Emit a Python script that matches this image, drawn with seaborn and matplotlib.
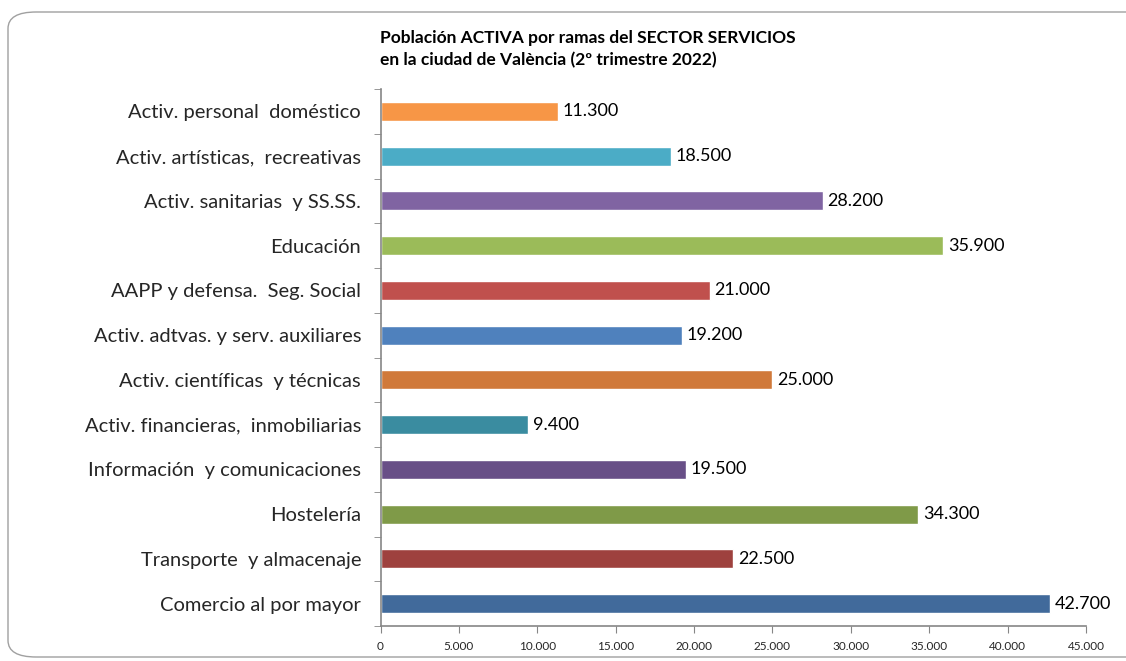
import matplotlib
matplotlib.use("Agg")
import matplotlib.pyplot as plt
import seaborn as sns
import pandas as pd
from matplotlib.patches import FancyBboxPatch
from matplotlib.ticker import FuncFormatter, FixedLocator

categories = [
    "Activ. personal  doméstico",
    "Activ. artísticas,  recreativas",
    "Activ. sanitarias  y SS.SS.",
    "Educación",
    "AAPP y defensa.  Seg. Social",
    "Activ. adtvas. y serv. auxiliares",
    "Activ. científicas  y técnicas",
    "Activ. financieras,  inmobiliarias",
    "Información  y comunicaciones",
    "Hostelería",
    "Transporte  y almacenaje",
    "Comercio al por mayor",
]
values = [11300, 18500, 28200, 35900, 21000, 19200, 25000, 9400, 19500, 34300, 22500, 42700]
colors = ["#F79646", "#4BACC6", "#8064A2", "#9BBB59", "#C0504D", "#4F81BD",
          "#D0793A", "#3A8CA0", "#684F87", "#7F9A48", "#9E413E", "#416A9B"]
xticks = [0, 5000, 10000, 15000, 20000, 25000, 30000, 35000, 40000, 45000]
title = "Población ACTIVA por ramas del SECTOR SERVICIOS\nen la ciudad de València (2º trimestre 2022)"

sns.set_style("white")
plt.rcParams['font.family'] = ['Lato', 'DejaVu Sans']

df = pd.DataFrame({"cat": categories, "val": values})

fig = plt.figure(figsize=(11.26, 6.61), dpi=100)
ax = fig.add_axes([380.5/1126, 1-626/661, (1086-380.5)/1126, (626-89)/661])

sns.barplot(data=df, x="val", y="cat", hue="cat", palette=colors, order=categories,
            hue_order=categories, legend=False, width=0.43, ax=ax, orient="h", saturation=1)

fmt = lambda v: f"{int(v):,}".replace(",", ".")
for i, v in enumerate(values):
    ax.text(v + 300, i, fmt(v), va="center", ha="left", fontsize=13, color="#000000")

ax.set_xlim(0, 45000)
ax.set_ylim(len(categories) - 0.5, -0.5)
ax.xaxis.set_major_locator(FixedLocator(xticks))
ax.xaxis.set_major_formatter(FuncFormatter(lambda v, p: fmt(v)))
ax.set_xlabel("")
ax.set_ylabel("")
ax.tick_params(axis="x", labelsize=8.5, length=5, direction="out", color="#868686", pad=6, bottom=True)
ax.tick_params(axis="y", which="major", labelsize=14.5, length=0, pad=14)
ax.set_yticks([i + 0.5 for i in range(-1, len(categories))], minor=True)
ax.tick_params(axis="y", which="minor", length=5, direction="out", color="#868686", left=True)
for s in ["top", "right"]:
    ax.spines[s].set_visible(False)
for s in ["left", "bottom"]:
    ax.spines[s].set_color("#868686")
    ax.spines[s].set_linewidth(1.2)

fig.text(380/1126, 1-30/661, title, ha="left", va="top", fontsize=12.5, fontweight="bold",
         linespacing=1.45, color="#000000")

border = FancyBboxPatch((8/1126, 4/661), (1126+30)/1126, (661-16)/661,
                        boxstyle="round,pad=0,rounding_size=0.025",
                        transform=fig.transFigure, fill=False, edgecolor="#A0A0A0",
                        linewidth=1.0, clip_on=False)
fig.patches.append(border)

fig.savefig("out.png", dpi=100)
